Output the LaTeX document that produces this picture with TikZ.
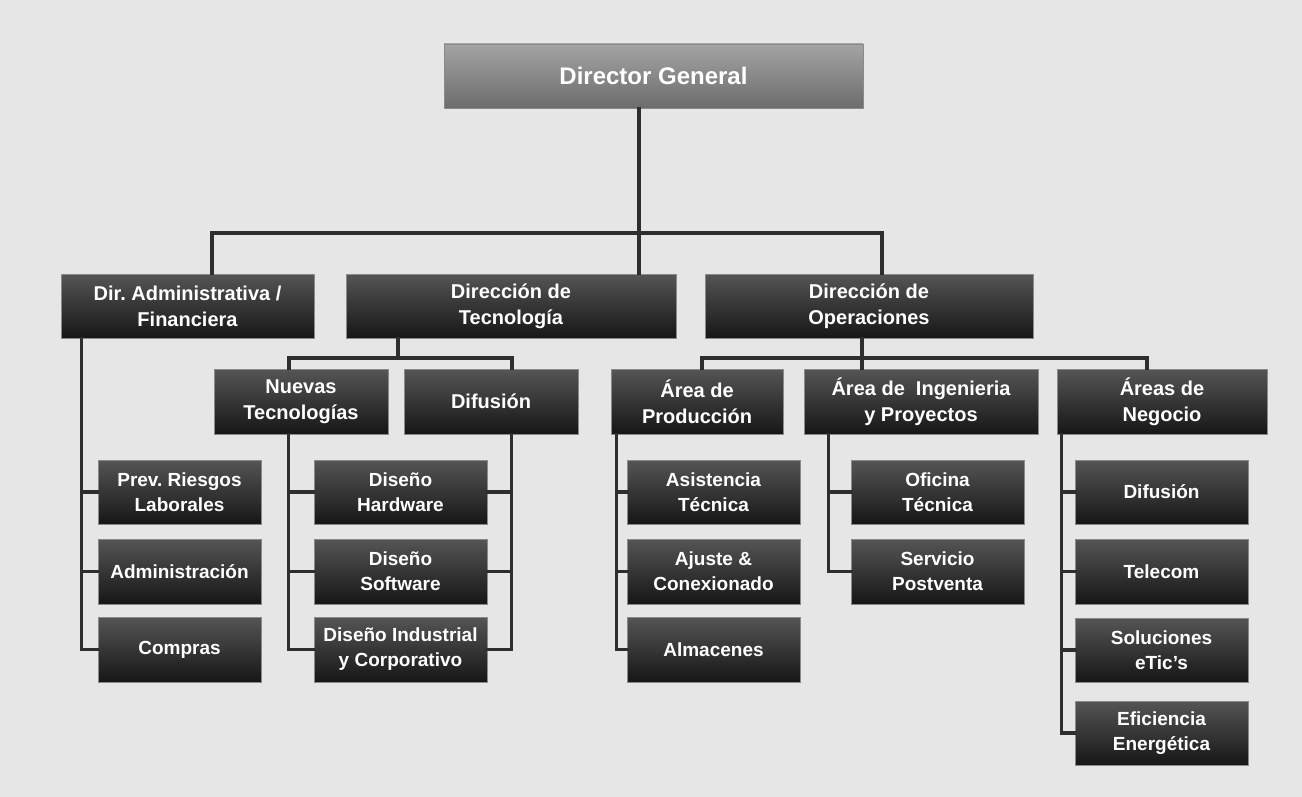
\documentclass[tikz,border=0pt]{standalone}
\usepackage{fontspec}
\setmainfont{Liberation Sans}
\frenchspacing
\usetikzlibrary{calc}
\definecolor{bgc}{HTML}{E6E6E6}
\definecolor{wire}{HTML}{2E2E2E}
\definecolor{boxtop}{HTML}{555555}
\definecolor{boxbot}{HTML}{161616}
\definecolor{headtop}{HTML}{A4A4A4}
\definecolor{headbot}{HTML}{6C6C6C}
\definecolor{edge}{HTML}{8A8A8A}
\tikzset{
  unitbox/.style={rectangle, inner sep=0pt, align=center, text=white,
    top color=boxtop, bottom color=boxbot, draw=edge, line width=0.6pt,
    font=\bfseries\fontsize{19}{25}\selectfont},
  mid/.style={unitbox, font=\bfseries\fontsize{20}{26}\selectfont},
  head/.style={unitbox, top color=headtop, bottom color=headbot,
    font=\bfseries\fontsize{24}{28}\selectfont},
  link/.style={draw=wire, line width=3.2pt, line cap=rect},
}
\begin{document}
\begin{tikzpicture}[x=1pt, y=-1pt]
  % page
  \fill[bgc] (0,0) rectangle (1302,797);
  \useasboundingbox (0,0) rectangle (1302,797);

  % top
  \node[head, minimum width=419pt, minimum height=64pt] (dg) at (653.5,76) {Director General};

  % directions
  \node[mid, minimum width=253pt, minimum height=64pt] (adm) at (187.5,306) {Dir. Administrativa /\\Financiera};
  \node[mid, minimum width=330pt, minimum height=64pt] (tec) at (511,306) {Dirección de\\Tecnología};
  \node[mid, minimum width=328pt, minimum height=64pt] (ope) at (869,306) {Dirección de\\Operaciones};

  % areas
  \node[mid, minimum width=174pt, minimum height=65pt] (nue) at (301,401.5) {Nuevas\\Tecnologías};
  \node[mid, minimum width=174pt, minimum height=65pt] (dif) at (491,401.5) {Difusión};
  \node[mid, minimum width=172pt, minimum height=65pt] (pro) at (697,401.5) {Área de\\Producción};
  \node[mid, minimum width=234pt, minimum height=65pt] (ing) at (921,401.5) {Área de\ \ Ingenieria\\y Proyectos};
  \node[mid, minimum width=210pt, minimum height=65pt] (neg) at (1162,401.5) {Áreas de\\Negocio};

  % administration units
  \node[unitbox, minimum width=163pt, minimum height=64pt] (prev) at (179.5,492) {Prev. Riesgos\\Laborales};
  \node[unitbox, minimum width=163pt, minimum height=65pt] (admin) at (179.5,571.5) {Administración};
  \node[unitbox, minimum width=163pt, minimum height=65pt] (comp) at (179.5,649.5) {Compras};

  % design units
  \node[unitbox, minimum width=173pt, minimum height=64pt] (dhw) at (400.5,492) {Diseño\\Hardware};
  \node[unitbox, minimum width=173pt, minimum height=65pt] (dsw) at (400.5,571.5) {Diseño\\Software};
  \node[unitbox, minimum width=173pt, minimum height=65pt] (dind) at (400.5,649.5) {Diseño Industrial\\y Corporativo};

  % production units
  \node[unitbox, minimum width=173pt, minimum height=64pt] (asis) at (713.5,492) {Asistencia\\Técnica};
  \node[unitbox, minimum width=173pt, minimum height=65pt] (ajus) at (713.5,571.5) {Ajuste \&\\Conexionado};
  \node[unitbox, minimum width=173pt, minimum height=65pt] (alma) at (713.5,649.5) {Almacenes};

  % engineering units
  \node[unitbox, minimum width=173pt, minimum height=64pt] (ofi) at (937.5,492) {Oficina\\Técnica};
  \node[unitbox, minimum width=173pt, minimum height=65pt] (serv) at (937.5,571.5) {Servicio\\Postventa};

  % business units
  \node[unitbox, minimum width=173pt, minimum height=64pt] (ndif) at (1161.5,492) {Difusión};
  \node[unitbox, minimum width=173pt, minimum height=65pt] (tel) at (1161.5,571.5) {Telecom};
  \node[unitbox, minimum width=173pt, minimum height=64pt] (sol) at (1161.5,650) {Soluciones\\eTic’s};
  \node[unitbox, minimum width=173pt, minimum height=64pt] (efi) at (1161.5,733) {Eficiencia\\Energética};

  % bus junctions
  \coordinate (bus) at (639,233);
  \coordinate (tbus) at (398,358);
  \coordinate (obus) at (862,358);

  % top level links
  \draw[link] ([xshift=-14.5pt]dg.south) -- ([xshift=-14.5pt]dg.south |- tec.north);
  \draw[link] ([xshift=24.5pt]adm.north) |- (bus) -| ([xshift=13pt]ope.north);

  % technology links
  \draw[link] ([xshift=-113pt]tec.south) -- (tbus);
  \draw[link] ([xshift=-12pt]nue.north) |- (tbus) -| ([xshift=21pt]dif.north);

  % operations links
  \draw[link] ([xshift=-7pt]ope.south) -- ([xshift=-7pt]ope.south |- ing.north);
  \draw[link] ([xshift=5pt]pro.north) |- (obus) -| ([xshift=-15pt]neg.north);

  % administration spine
  \draw[link] ([xshift=21pt]adm.south west) |- (comp.west);
  \draw[link] ([xshift=21pt]adm.south west) |- (prev.west);
  \draw[link] ([xshift=21pt]adm.south west) |- (admin.west);

  % new technologies spine
  \draw[link] ([xshift=75pt]nue.south west) |- (dind.west);
  \draw[link] ([xshift=75pt]nue.south west) |- (dhw.west);
  \draw[link] ([xshift=75pt]nue.south west) |- (dsw.west);

  % diffusion spine
  \draw[link] ([xshift=108pt]dif.south west) |- (dind.east);
  \draw[link] ([xshift=108pt]dif.south west) |- (dhw.east);
  \draw[link] ([xshift=108pt]dif.south west) |- (dsw.east);

  % production spine
  \draw[link] ([xshift=6pt]pro.south west) |- (alma.west);
  \draw[link] ([xshift=6pt]pro.south west) |- (asis.west);
  \draw[link] ([xshift=6pt]pro.south west) |- (ajus.west);

  % engineering spine
  \draw[link] ([xshift=25pt]ing.south west) |- (serv.west);
  \draw[link] ([xshift=25pt]ing.south west) |- (ofi.west);

  % business spine
  \draw[link] ([xshift=5pt]neg.south west) |- (efi.west);
  \draw[link] ([xshift=5pt]neg.south west) |- (ndif.west);
  \draw[link] ([xshift=5pt]neg.south west) |- (tel.west);
  \draw[link] ([xshift=5pt]neg.south west) |- (sol.west);
\end{tikzpicture}
\end{document}
